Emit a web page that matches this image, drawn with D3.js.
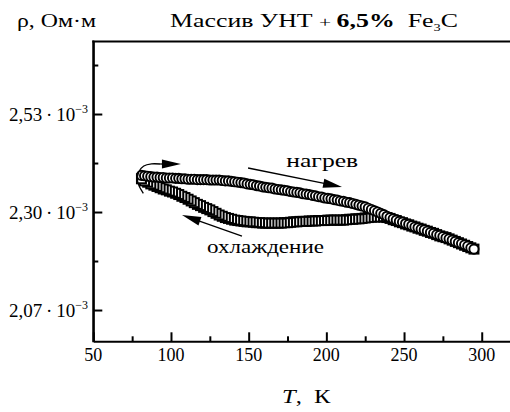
<!DOCTYPE html>
<html><head><meta charset="utf-8">
<script src="https://cdn.jsdelivr.net/npm/d3@7"></script>
<style>body{margin:0;background:#fff}svg{display:block}</style>
</head><body>
<svg id="c" width="510" height="412"></svg>
<script>
// Heating branch (circles), T in K, rho in 1e-3 Ohm·m
const heatT = [81,83,85,87,89,91,93,95,97,99,101,103,105,107,109,111,113,115,117,119,121,123,125,127,129,131,133,135,137,139,141,143,145,147,149,151,153,155,157,159,161,163,165,167,169,171,173,175,177,179,181,183,185,187,189,191,193,195,197,199,201,203,205,207,209,211,213,215,217,219,221,223,225,227,229,231,233,235,237,239,241,243,245,247,249,251,253,255,257,259,261,263,265,267,269,271,273,275,277,279,281,283,285,287,289,291,293,295];
const heatRho = [2.386,2.385,2.384,2.383,2.382,2.382,2.381,2.381,2.380,2.380,2.380,2.379,2.379,2.378,2.378,2.377,2.377,2.377,2.376,2.376,2.376,2.376,2.375,2.375,2.375,2.375,2.374,2.373,2.373,2.372,2.371,2.370,2.369,2.368,2.366,2.365,2.364,2.362,2.361,2.359,2.358,2.357,2.356,2.354,2.353,2.352,2.351,2.350,2.348,2.347,2.346,2.345,2.343,2.342,2.341,2.339,2.338,2.336,2.335,2.333,2.332,2.331,2.329,2.328,2.326,2.325,2.323,2.322,2.320,2.318,2.316,2.314,2.312,2.309,2.306,2.303,2.300,2.297,2.294,2.290,2.287,2.284,2.281,2.278,2.276,2.273,2.271,2.268,2.265,2.263,2.260,2.258,2.255,2.252,2.250,2.247,2.245,2.242,2.239,2.237,2.234,2.231,2.228,2.226,2.223,2.220,2.216,2.213];
// Cooling branch (squares)
const coolT = [295,293,291,289,287,285,283,281,279,277,275,273,271,269,267,265,263,261,259,257,255,253,251,249,247,245,243,241,239,237,235,233,231,229,227,225,223,221,219,217,215,213,211,209,207,205,203,201,199,197,195,193,191,189,187,185,183,181,179,177,175,173,171,169,167,165,163,161,159,157,155,153,151,149,147,145,143,141,139,137,135,133,131,129,127,125,123,121,119,117,115,113,111,109,107,105,103,101,99,97,95,93,91,89,87,85,83,81];
const coolRho = [2.213,2.216,2.219,2.222,2.225,2.228,2.231,2.234,2.237,2.240,2.242,2.244,2.247,2.250,2.252,2.255,2.257,2.260,2.262,2.265,2.267,2.270,2.272,2.275,2.277,2.280,2.282,2.285,2.287,2.288,2.289,2.289,2.288,2.288,2.287,2.286,2.285,2.284,2.284,2.283,2.283,2.282,2.281,2.281,2.281,2.281,2.281,2.281,2.280,2.280,2.280,2.279,2.279,2.279,2.278,2.278,2.278,2.277,2.277,2.276,2.275,2.275,2.274,2.274,2.274,2.274,2.274,2.274,2.274,2.275,2.275,2.276,2.277,2.277,2.278,2.279,2.280,2.281,2.283,2.285,2.287,2.290,2.293,2.297,2.301,2.305,2.308,2.311,2.315,2.318,2.322,2.326,2.330,2.334,2.337,2.341,2.344,2.347,2.349,2.352,2.354,2.357,2.360,2.363,2.366,2.370,2.373,2.378];

const xMajor = [50,100,150,200,250,300];
const xMinor = [75,125,175,225,275];
const yMajor = [2.07,2.30,2.53];
const yMinor = [2.185,2.415,2.645];
const yTickLabels = ["2,07","2,30","2,53"];
const yTickExp = "\u22123";

// Annotation geometry in data units (T, rho)
const arcPts = [[82.2,2.3439],[78.6,2.3700],[79.2,2.3940],[82.5,2.4080],[87.5,2.4130],[93.0,2.4127]];
const arcHead = [[93.0,2.4127],[106.4,2.4127]];
const heatArrow = [[149.6,2.4033],[210.1,2.3587]];
const coolArrow = [[145.7,2.2437],[107.1,2.2930]];
const heatLabelPos = [174.2,2.4060];
const coolLabelPos = [123.2,2.2030];

const svg = d3.select("#c");
const x = d3.scaleLinear().domain([50,318.2]).range([93.3,510]);
const y = d3.scaleLinear().domain([1.9966,2.7002]).range([341.3,41.5]);

const axisStyle = g => { g.selectAll("path,line").attr("stroke","#000").attr("stroke-width",2); g.selectAll("text").remove(); };

svg.append("g").attr("transform",`translate(0,${y.range()[0]})`)
  .call(d3.axisBottom(x).tickValues(xMajor).tickSizeInner(-9).tickSizeOuter(0).tickFormat(""))
  .call(axisStyle);
svg.append("g").attr("transform",`translate(0,${y.range()[0]})`)
  .call(d3.axisBottom(x).tickValues(xMinor).tickSizeInner(-5).tickSizeOuter(0).tickFormat(""))
  .call(axisStyle).select(".domain").remove();
svg.append("g").attr("transform",`translate(${x.range()[0]},0)`)
  .call(d3.axisLeft(y).tickValues(yMajor).tickSizeInner(-9).tickSizeOuter(0).tickFormat(""))
  .call(axisStyle);
svg.append("g").attr("transform",`translate(${x.range()[0]},0)`)
  .call(d3.axisLeft(y).tickValues(yMinor).tickSizeInner(-5).tickSizeOuter(0).tickFormat(""))
  .call(axisStyle).select(".domain").remove();
svg.append("line").attr("x1",x.range()[0]-1).attr("x2",x.range()[1])
  .attr("y1",y.range()[1]).attr("y2",y.range()[1]).attr("stroke","#000").attr("stroke-width",2);
svg.append("line").attr("x1",x.range()[0]).attr("x2",x.range()[0])
  .attr("y1",y.range()[1]-1).attr("y2",y.range()[0]+1).attr("stroke","#000").attr("stroke-width",2);

const SERIF = "Liberation Serif, Times New Roman, serif";
svg.append("g").selectAll("text").data(xMajor).join("text")
  .attr("x",d=>x(d)).attr("y",y.range()[0]+20)
  .attr("text-anchor","middle").attr("font-family",SERIF).attr("font-size",18)
  .text(d=>d);
const yl = svg.append("g").selectAll("text").data(yMajor).join("text")
  .attr("x",88).attr("y",(d)=>y(d)+7)
  .attr("text-anchor","end").attr("font-family",SERIF).attr("font-size",19);
yl.append("tspan").text((d,i)=>yTickLabels[i]+"\u2009\u00b7\u200910");
yl.append("tspan").attr("dy",-8).attr("font-size",12).text(yTickExp);

// Data markers: cooling squares first, then heating circles
const s = 9;
svg.append("g").selectAll("rect").data(coolT.map((t,i)=>[t,coolRho[i]])).join("rect")
  .attr("x",d=>x(d[0])-s/2).attr("y",d=>y(d[1])-s/2).attr("width",s).attr("height",s)
  .attr("fill","#fff").attr("stroke","#000").attr("stroke-width",2);
svg.append("g").selectAll("circle").data(heatT.map((t,i)=>[t,heatRho[i]])).join("circle")
  .attr("cx",d=>x(d[0])).attr("cy",d=>y(d[1])).attr("r",4.6)
  .attr("fill","#fff").attr("stroke","#000").attr("stroke-width",1.9);

function arrow(p0,p1,len,hw){
  const a=[x(p0[0]),y(p0[1])], b=[x(p1[0]),y(p1[1])];
  const dx=b[0]-a[0], dy=b[1]-a[1], L=Math.hypot(dx,dy), ux=dx/L, uy=dy/L;
  const bx=b[0]-ux*len, by=b[1]-uy*len;
  svg.append("line").attr("x1",a[0]).attr("y1",a[1]).attr("x2",bx+ux*2).attr("y2",by+uy*2)
    .attr("stroke","#000").attr("stroke-width",1.3);
  svg.append("path").attr("d",`M${b[0]},${b[1]}L${bx-uy*hw},${by+ux*hw}L${bx+uy*hw},${by-ux*hw}Z`).attr("fill","#000");
}
arrow(heatArrow[0],heatArrow[1],19,4.5);
arrow(coolArrow[0],coolArrow[1],19,4.5);
svg.append("path").attr("d",d3.line().x(d=>x(d[0])).y(d=>y(d[1])).curve(d3.curveCatmullRom)(arcPts))
  .attr("fill","none").attr("stroke","#000").attr("stroke-width",1.3);
arrow(arcHead[0],arcHead[1],19,4.5);

function fitText(sel, x0, x1, yb){
  sel.attr("x",0).attr("y",0);
  const w = sel.node().getBBox().width;
  sel.attr("transform",`translate(${x0},${yb}) scale(${(x1-x0)/w},1)`);
}
const hl = svg.append("text").attr("font-family",SERIF).attr("font-size",19).text("нагрев");
fitText(hl, x(heatLabelPos[0]), x(heatLabelPos[0])+72, y(heatLabelPos[1]));
const cl = svg.append("text").attr("font-family",SERIF).attr("font-size",19).text("охлаждение");
fitText(cl, x(coolLabelPos[0]), x(coolLabelPos[0])+117, y(coolLabelPos[1]));

const yt = svg.append("text").attr("font-family",SERIF).attr("font-size",18).text("ρ, Ом·м");
fitText(yt, 17, 96, 27);

const tt = svg.append("text").attr("font-family",SERIF).attr("font-size",18);
tt.append("tspan").text("Массив УНТ ");
tt.append("tspan").attr("font-size",15).text("+ ");
tt.append("tspan").attr("font-weight","bold").text("6,5%");
tt.append("tspan").text("\u00a0\u00a0Fe");
tt.append("tspan").attr("font-size",10).attr("dy",4).text("3");
tt.append("tspan").attr("dy",-4).text("C");
fitText(tt, 170, 458, 27);

const xt = svg.append("text").attr("font-family",SERIF).attr("font-size",19);
xt.append("tspan").attr("font-style","italic").text("T");
xt.append("tspan").text(", \u00a0К");
fitText(xt, 282, 331, 403);
</script>
</body></html>
